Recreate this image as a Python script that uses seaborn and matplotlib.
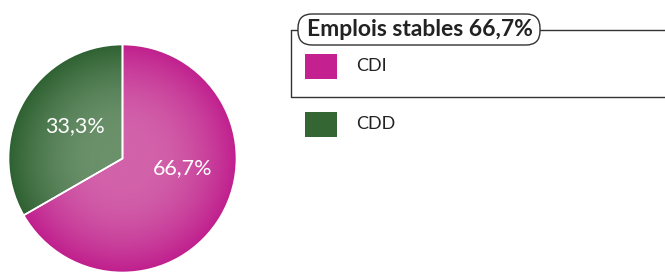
import numpy as np
import matplotlib
matplotlib.use("Agg")
import matplotlib.pyplot as plt
import matplotlib.colors as mcolors
from matplotlib.patches import Rectangle, FancyBboxPatch
import seaborn as sns

# données
categories = ["CDI", "CDD"]
values = [66.7, 33.3]
pct_labels = ["66,7%", "33,3%"]
group_title = "Emplois stables 66,7%"

rim_colors = ["#c01f8d", "#2e6131"]
center_colors = ["#d262aa", "#6b916b"]
legend_colors = ["#c42090", "#336633"]

sns.set_style("white")
plt.rcParams['font.family'] = ['Lato', 'DejaVu Sans']

W, H = 665, 274
fig = plt.figure(figsize=(W / 100, H / 100), dpi=100)

# ---- camembert ----
cx, cy, r = 122.5, 158.5, 114
ax = fig.add_axes([(cx - r) / W, (H - cy - r) / H, 2 * r / W, 2 * r / H])
wedges, _ = ax.pie(values, colors=rim_colors, startangle=90, counterclock=False,
                   radius=1, wedgeprops=dict(edgecolor="white", linewidth=1.2))
ax.set_xlim(-1, 1)
ax.set_ylim(-1, 1)
ax.set_aspect("equal")
ax.axis("off")

# dégradé radial dans chaque part
n = 400
xx, yy = np.meshgrid(np.linspace(-1, 1, n), np.linspace(-1, 1, n))
rr = np.sqrt(xx ** 2 + yy ** 2)
t = np.clip((rr - 0.2) / 0.8, 0, 1) ** 1.8
for w, c0, c1 in zip(wedges, center_colors, rim_colors):
    a = np.array(mcolors.to_rgb(c0))
    b = np.array(mcolors.to_rgb(c1))
    img = a[None, None, :] * (1 - t[..., None]) + b[None, None, :] * t[..., None]
    im = ax.imshow(img, extent=(-1, 1, -1, 1), origin="lower", zorder=1.5)
    im.set_clip_path(w)
for w in wedges:
    w.set_zorder(2)
    w.set_facecolor("none")

# étiquettes des parts (position à la main, comme sur l'original)
label_pos = [(0.53, -0.08), (-0.42, 0.28)]
for (lx, ly), lab in zip(label_pos, pct_labels):
    ax.text(lx, ly, lab, color="white", fontsize=15.5, ha="center", va="center", zorder=3)

# ---- légende ----
lg = fig.add_axes([0, 0, 1, 1])
lg.set_xlim(0, W)
lg.set_ylim(H, 0)
lg.axis("off")

# crochet du groupe
lg.plot([291, 665], [30, 30], color="#333333", lw=1)
lg.plot([291, 291, 665], [30, 97, 97], color="#333333", lw=1)
box = FancyBboxPatch((298, 14), 242, 31, boxstyle="round,pad=0,rounding_size=14",
                     facecolor="white", edgecolor="#333333", lw=1, zorder=3)
lg.add_patch(box)
lg.text(420, 29.5, group_title, fontsize=16.5, fontweight="bold", color="#222222",
        ha="center", va="center", zorder=4)

for i, (cat, col) in enumerate(zip(categories, legend_colors)):
    y = 66 + i * 58
    lg.add_patch(Rectangle((305, y - 12.5), 32, 25, facecolor=col, edgecolor="none"))
    lg.text(356, y, cat, fontsize=13, color="#222222", va="center", ha="left")

fig.savefig("out.png", dpi=100)
